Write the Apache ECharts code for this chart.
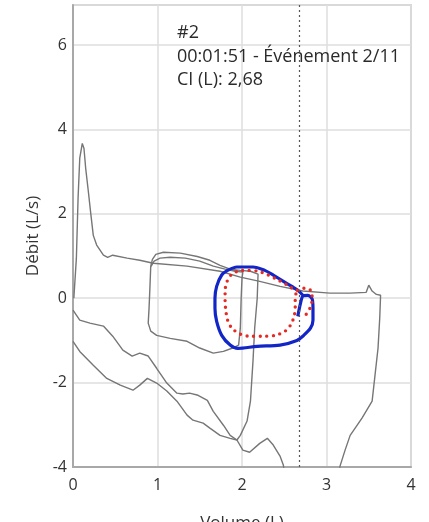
<!DOCTYPE html>
<html>
<head>
<meta charset="utf-8">
<script src="https://cdn.jsdelivr.net/npm/echarts@6/dist/echarts.min.js"></script>
<style>
  html, body { margin: 0; padding: 0; background: #ffffff; }
  #chart { width: 429px; height: 522px; }
</style>
</head>
<body>
<div id="chart"></div>
<script>
// Flow-volume traces: [volume (L), flow (L/s)]
const spikeBreath = [
  [0.01, 0], [0.04, 0.95], [0.06, 2.37], [0.08, 3.32], [0.11, 3.67], [0.13, 3.55],
  [0.15, 3.08], [0.18, 2.56], [0.21, 2.01], [0.24, 1.49], [0.28, 1.26], [0.36, 1.02],
  [0.41, 0.97], [0.47, 1.02], [0.64, 0.95], [0.79, 0.90], [0.95, 0.83], [1.35, 0.76],
  [1.74, 0.64], [1.98, 0.50], [2.21, 0.40], [2.45, 0.28], [2.72, 0.17], [3.04, 0.12],
  [3.28, 0.12], [3.47, 0.14], [3.50, 0.31], [3.54, 0.17], [3.59, 0.09], [3.64, 0.07],
  [3.63, -0.47], [3.61, -1.18], [3.57, -1.90], [3.54, -2.44], [3.42, -2.84],
  [3.28, -3.25], [3.22, -3.60], [3.16, -3.98], [3.15, -4.1]
];

const upperDescent = [
  [0, -0.28], [0.08, -0.52], [0.20, -0.59], [0.36, -0.66], [0.47, -0.90], [0.59, -1.23],
  [0.70, -1.37], [0.79, -1.30], [0.89, -1.37], [0.99, -1.66], [1.11, -2.01], [1.23, -2.25],
  [1.30, -2.27], [1.38, -2.25], [1.48, -2.30], [1.59, -2.42], [1.66, -2.68], [1.78, -3.01],
  [1.86, -3.25], [1.94, -3.36], [2.01, -3.60], [2.09, -3.65], [2.21, -3.44], [2.30, -3.32],
  [2.37, -3.48], [2.45, -3.74], [2.49, -3.96], [2.50, -4.1]
];

const lowerDescent = [
  [0, -1.02], [0.08, -1.26], [0.24, -1.59], [0.40, -1.90], [0.56, -2.06], [0.71, -2.18],
  [0.79, -2.06], [0.88, -1.90], [0.99, -2.01], [1.11, -2.20], [1.23, -2.44], [1.35, -2.77],
  [1.42, -2.89], [1.54, -2.96], [1.62, -3.08], [1.74, -3.25], [1.86, -3.32], [1.94, -3.36],
  [1.98, -3.25], [2.06, -2.91], [2.10, -2.44], [2.13, -1.49], [2.15, -0.71], [2.18, 0],
  [2.19, 0.57], [2.10, 0.64], [1.98, 0.66], [1.86, 0.69], [1.74, 0.78], [1.62, 0.90],
  [1.47, 0.99], [1.27, 1.07], [1.07, 1.09], [0.98, 1.04], [0.94, 0.92], [0.92, 0.76],
  [0.91, 0.24], [0.90, -0.24], [0.89, -0.59], [0.92, -0.78], [0.99, -0.88], [1.15, -0.95],
  [1.35, -1.02], [1.50, -1.18], [1.66, -1.30], [1.78, -1.26], [1.89, -1.18], [1.96, -1.11],
  [1.98, -0.71], [1.99, 0], [2.00, 0.47], [2.01, 0.62], [1.92, 0.64], [1.80, 0.69],
  [1.66, 0.76], [1.50, 0.88], [1.33, 0.95], [1.15, 0.97], [1.03, 0.95], [0.96, 0.88],
  [0.92, 0.74]
];

const tidalLoop = [
  [2.66, -0.43], [2.69, -0.14], [2.72, 0.05], [2.78, 0.07], [2.83, -0.02], [2.84, -0.24],
  [2.84, -0.52], [2.81, -0.71], [2.73, -0.88], [2.65, -1.00], [2.45, -1.11], [2.18, -1.14],
  [1.95, -1.19], [1.86, -1.11], [1.76, -0.88], [1.70, -0.55], [1.68, -0.24], [1.68, 0],
  [1.70, 0.28], [1.76, 0.55], [1.83, 0.66], [1.94, 0.74], [2.13, 0.74], [2.27, 0.66],
  [2.37, 0.55], [2.49, 0.40], [2.59, 0.28], [2.66, 0.19], [2.72, 0.07]
];

const referenceLoop = [
  [2.76, -0.38], [2.81, -0.21], [2.83, -0.02], [2.82, 0.17], [2.75, 0.24], [2.65, 0.19],
  [2.54, 0.31], [2.43, 0.43], [2.31, 0.55], [2.19, 0.64], [2.06, 0.66], [1.95, 0.64],
  [1.87, 0.55], [1.82, 0.38], [1.80, 0.17], [1.80, -0.07], [1.81, -0.31], [1.83, -0.52],
  [1.88, -0.71], [1.98, -0.85], [2.10, -0.90], [2.24, -0.90], [2.39, -0.88], [2.51, -0.78],
  [2.58, -0.62], [2.62, -0.40], [2.63, -0.19], [2.63, 0], [2.64, 0.12]
];

const ciVolume = 2.68;
const xTicks = [0, 1, 2, 3, 4];
const yTicks = [-4, -2, 0, 2, 4, 6];
const headerLines = ['#2', '00:01:51 - Événement 2/11', 'CI (L): 2,68'];

const font = 'Open Sans';
const greyLine = { color: '#767676', width: 1.4 };

const chart = echarts.init(document.getElementById('chart'), null, { renderer: 'canvas' });

chart.setOption({
  backgroundColor: '#ffffff',
  animation: false,
  grid: {
    left: 73, right: 18, top: 5, bottom: 55,
    containLabel: false, outerBoundsMode: 'none',
    show: true, borderColor: '#b8b8b8', borderWidth: 1.5, backgroundColor: 'transparent'
  },
  xAxis: {
    type: 'value', min: xTicks[0], max: xTicks[xTicks.length - 1], interval: 1,
    name: 'Volume (L)', nameLocation: 'middle', nameGap: 48,
    nameTextStyle: { fontFamily: font, fontSize: 17, color: '#333' },
    axisLine: { show: true, onZero: false, lineStyle: { color: '#a8a8a8', width: 2 } },
    axisTick: { show: false },
    axisLabel: { fontFamily: font, fontSize: 16, color: '#333', margin: 10 },
    splitLine: { show: true, lineStyle: { color: '#dedede', width: 1.5 } }
  },
  yAxis: {
    type: 'value', min: yTicks[0], max: 6.95, interval: 2,
    name: 'Débit (L/s)', nameLocation: 'middle', nameGap: 30,
    nameTextStyle: { fontFamily: font, fontSize: 17, color: '#333' },
    axisLine: { show: true, onZero: false, lineStyle: { color: '#a8a8a8', width: 2 } },
    axisTick: { show: false },
    axisLabel: { fontFamily: font, fontSize: 16, color: '#333', margin: 6, showMaxLabel: false },
    splitLine: { show: true, lineStyle: { color: '#dedede', width: 1.5 } }
  },
  graphic: headerLines.map((t, i) => ({
    type: 'text', left: 177, top: 24 + i * 23.5, z: 10,
    style: { text: t, fontFamily: font, fontSize: 18, fill: '#2a2a2a' }
  })),
  series: [
    { type: 'line', data: spikeBreath, showSymbol: false, lineStyle: greyLine, clip: true, z: 2 },
    { type: 'line', data: upperDescent, showSymbol: false, lineStyle: greyLine, clip: true, z: 2 },
    { type: 'line', data: lowerDescent, showSymbol: false, lineStyle: greyLine, clip: true, z: 2 },
    {
      type: 'line', data: tidalLoop, showSymbol: false, smooth: 0.3, z: 4,
      lineStyle: { color: '#1226c8', width: 3.2 }
    },
    {
      type: 'line', data: referenceLoop, showSymbol: false, smooth: 0.3, z: 5,
      lineStyle: { color: '#e52a22', width: 3.4, type: [0, 6.6], cap: 'round' },
      markLine: {
        silent: true, symbol: 'none', label: { show: false },
        lineStyle: { color: '#555', width: 1.2, type: [2, 3] },
        data: [{ xAxis: ciVolume }]
      }
    }
  ]
});
</script>
</body>
</html>
